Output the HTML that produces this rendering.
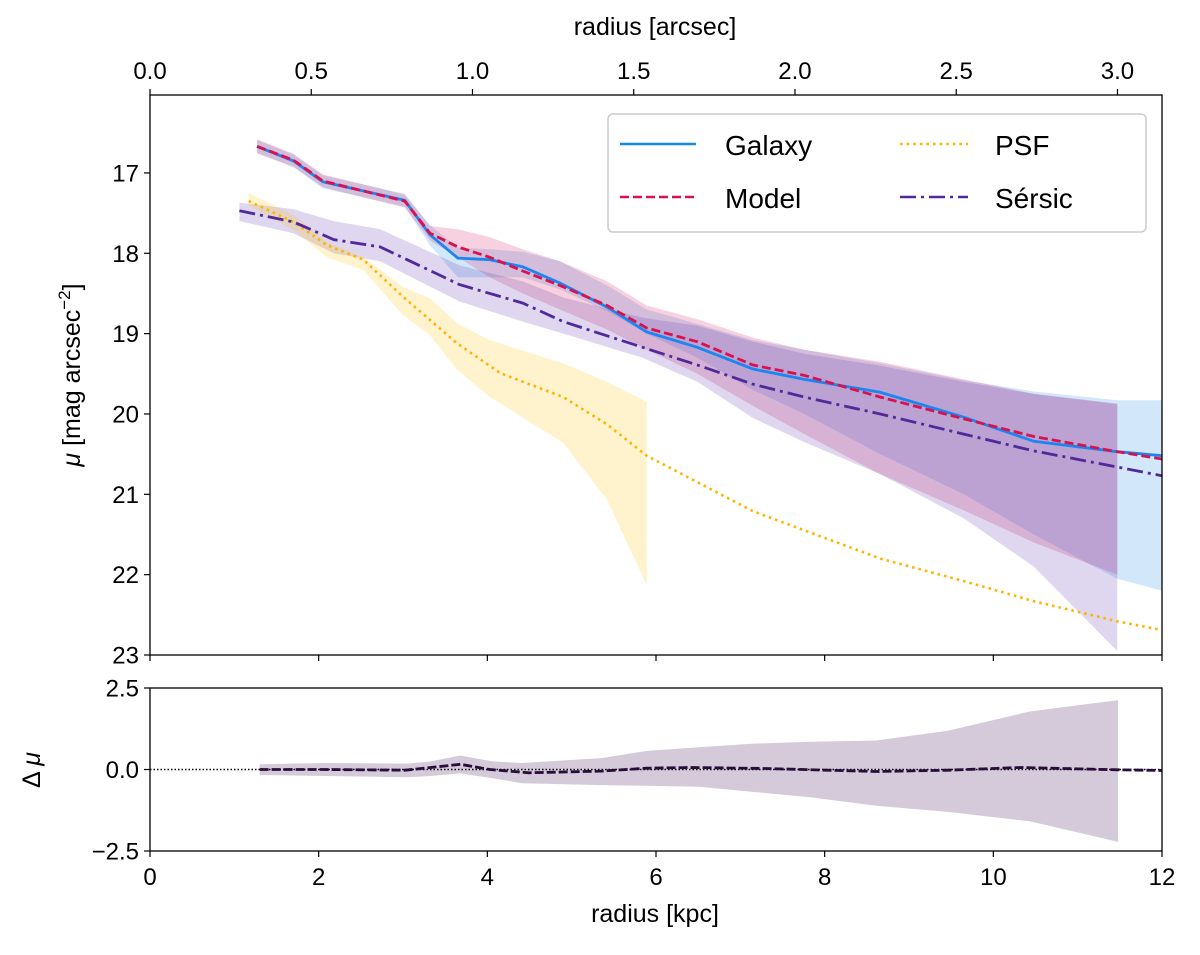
<!DOCTYPE html>
<html><head><meta charset="utf-8">
<style>
html,body{margin:0;padding:0;background:#fff;}
svg{display:block;font-family:"Liberation Sans","DejaVu Sans",sans-serif;}
</style></head>
<body>
<svg id="fig" width="1200" height="955" viewBox="0 0 1200 955" xmlns="http://www.w3.org/2000/svg">
<defs>
<clipPath id="clipMain"><rect x="150" y="95" width="1012" height="560"/></clipPath>
<clipPath id="clipRes"><rect x="150" y="688" width="1012" height="163"/></clipPath>
</defs>
<g id="mainBands" clip-path="url(#clipMain)"></g>
<g id="mainLines" clip-path="url(#clipMain)"></g>
<g id="resG" clip-path="url(#clipRes)"></g>
<g id="axesG"></g>
<g id="legendG">
  <rect x="608" y="114" width="538" height="118" rx="5" fill="#fff" fill-opacity="0.85" stroke="#cccccc" stroke-width="1.5"/>
  <line x1="620" y1="144" x2="696" y2="144" stroke="#1a86f0" stroke-width="2.6"/>
  <text x="725" y="155" font-size="28">Galaxy</text>
  <line x1="620" y1="197" x2="696" y2="197" stroke="#d8114f" stroke-width="2.6" stroke-dasharray="9,4"/>
  <text x="725" y="208" font-size="28">Model</text>
  <line x1="900" y1="144" x2="968" y2="144" stroke="#ffb400" stroke-width="2.6" stroke-dasharray="2.6,4"/>
  <text x="995" y="155" font-size="28">PSF</text>
  <line x1="900" y1="197" x2="968" y2="197" stroke="#512a9a" stroke-width="2.6" stroke-dasharray="16,5,3,5"/>
  <text x="995" y="208" font-size="28">Sérsic</text>
</g>
<text x="655" y="35" font-size="25" text-anchor="middle">radius [arcsec]</text>
<text x="655" y="922" font-size="25" text-anchor="middle">radius [kpc]</text>
<text transform="translate(80,375) rotate(-90)" font-size="25" text-anchor="middle"><tspan font-style="italic">μ</tspan> [mag arcsec<tspan dy="-10" font-size="17">−2</tspan><tspan dy="10">]</tspan></text>
<text transform="translate(40,770) rotate(-90)" font-size="25" text-anchor="middle">Δ <tspan font-style="italic">μ</tspan></text>
</svg>
<script>
// ---- data ----
const R = [1.27,1.70,2.05,3.02,3.32,3.65,4.03,4.42,4.86,5.42,5.89,6.49,7.15,7.76,8.66,9.65,10.48,11.47,12.0];
const galaxy = [16.67,16.85,17.11,17.34,17.77,18.06,18.08,18.17,18.37,18.67,18.98,19.17,19.44,19.57,19.73,20.04,20.34,20.47,20.52];
const galaxyUp = [16.59,16.77,17.03,17.26,17.65,17.93,17.95,17.98,18.10,18.40,18.70,18.88,19.08,19.20,19.37,19.58,19.72,19.83,19.83];
const galaxyLo = [16.75,16.93,17.19,17.42,17.90,18.30,18.30,18.30,18.45,18.72,19.00,19.30,19.70,20.00,20.50,21.00,21.50,22.05,22.20];
const model = [16.67,16.84,17.10,17.35,17.75,17.92,18.05,18.22,18.40,18.65,18.93,19.10,19.39,19.52,19.79,20.06,20.28,20.47,20.56];
const RModelBand = [1.27,1.70,2.05,3.02,3.32,3.65,4.03,4.42,4.86,5.42,5.89,6.49,7.15,7.76,8.66,9.65,10.48,11.47];
const modelUp = [16.58,16.76,17.02,17.27,17.66,17.70,17.80,17.95,18.10,18.35,18.65,18.82,19.05,19.20,19.35,19.57,19.75,19.87];
const modelLo = [16.76,16.92,17.18,17.43,17.84,18.05,18.30,18.50,18.70,18.95,19.20,19.50,19.90,20.25,20.75,21.20,21.60,22.00];
const RSersic = [1.06,1.70,2.18,2.73,3.67,4.42,4.90,5.84,6.49,7.15,7.76,8.66,9.65,10.48,11.47,12.0];
const sersic = [17.47,17.61,17.83,17.92,18.39,18.62,18.85,19.17,19.39,19.63,19.79,20.00,20.25,20.46,20.66,20.77];
const RSersicBand = [1.06,1.70,2.18,2.73,3.67,4.42,4.90,5.84,6.49,7.15,7.76,8.66,9.65,10.48,11.47];
const sersicUp = [17.37,17.45,17.60,17.70,18.15,18.35,18.55,18.80,18.90,19.10,19.25,19.40,19.60,19.75,19.88];
const sersicLo = [17.60,17.75,18.00,18.10,18.60,18.85,19.00,19.30,19.60,20.05,20.35,20.75,21.30,21.90,22.95];
const RPsf = [1.17,1.70,2.10,2.53,3.00,3.64,4.15,4.90,5.42,5.89,7.15,8.66,9.65,10.48,11.47,12.0];
const psf = [17.35,17.61,17.90,18.08,18.54,19.12,19.49,19.79,20.13,20.52,21.21,21.80,22.08,22.33,22.58,22.69];
const RPsfBand = [1.17,1.70,2.10,2.53,3.00,3.32,3.64,4.03,4.90,5.42,5.89];
const psfUp = [17.25,17.52,17.86,18.05,18.42,18.56,18.87,19.08,19.37,19.60,19.85];
const psfLo = [17.40,17.71,18.05,18.21,18.77,19.02,19.45,19.79,20.36,21.07,22.13];
const RRes = [1.30,2.05,3.03,3.68,4.03,4.49,5.35,5.89,6.44,7.29,8.61,9.46,10.32,11.48,12.0];
const residual = [0.0,0.0,-0.02,0.16,0.0,-0.10,-0.05,0.04,0.06,0.03,-0.06,-0.02,0.06,-0.01,-0.03];
const RResBand = [1.30,2.08,3.05,3.33,3.68,4.06,4.41,5.35,5.89,6.51,7.13,7.83,8.61,9.46,10.43,11.48];
const resUp = [0.16,0.20,0.18,0.25,0.43,0.25,0.20,0.35,0.57,0.68,0.79,0.85,0.89,1.19,1.78,2.13];
const resLo = [-0.17,-0.20,-0.24,-0.20,-0.12,-0.27,-0.42,-0.48,-0.50,-0.53,-0.68,-0.85,-1.11,-1.30,-1.59,-2.22];
const xTicks = [0,2,4,6,8,10,12];
const arcTicks = [0.0,0.5,1.0,1.5,2.0,2.5,3.0];
const yTicks = [17,18,19,20,21,22,23];
const resTicks = [2.5,0.0,-2.5];
const resTickLabels = ["2.5","0.0","\u22122.5"];
const kpcPerArcsec = 3.824;

// ---- scales ----
const L=150, Rt=1162, T=95, B=655, RT=688, RB=851;
const xS = v => L + (v-0)/(12-0)*(Rt-L);
const yS = v => T + (v-16.03)/(23-16.03)*(B-T);
const ryS = v => RT + (2.5-v)/5*(RB-RT);
const NS="http://www.w3.org/2000/svg";
function mk(tag, attrs, parent){const e=document.createElementNS(NS,tag);for(const k in attrs)e.setAttribute(k,attrs[k]);parent.appendChild(e);return e;}
function linePath(xs,ys,ysc){return xs.map((x,i)=>(i?'L':'M')+xS(x).toFixed(1)+','+ysc(ys[i]).toFixed(1)).join('');}
function bandPath(xs,up,lo,ysc){let d=xs.map((x,i)=>(i?'L':'M')+xS(x).toFixed(1)+','+ysc(up[i]).toFixed(1)).join('');for(let i=xs.length-1;i>=0;i--)d+='L'+xS(xs[i]).toFixed(1)+','+ysc(lo[i]).toFixed(1);return d+'Z';}

const bands=document.getElementById('mainBands');
let e;
e=mk('path',{d:bandPath(R,galaxyUp,galaxyLo,yS),fill:'#1E88E5','fill-opacity':0.2},bands);


e=mk('path',{d:bandPath(RModelBand,modelUp,modelLo,yS),fill:'#D81B60','fill-opacity':0.2},bands);


e=mk('path',{d:bandPath(RSersicBand,sersicUp,sersicLo,yS),fill:'#5E35B1','fill-opacity':0.2},bands);


e=mk('path',{d:bandPath(RPsfBand,psfUp,psfLo,yS),fill:'#FFC107','fill-opacity':0.2},bands);



const lines=document.getElementById('mainLines');
e=mk('path',{d:linePath(RPsf,psf,yS),fill:'none',stroke:'#ffb400','stroke-width':2.6,'stroke-dasharray':'2.6,4'},lines);


e=mk('path',{d:linePath(RSersic,sersic,yS),fill:'none',stroke:'#512a9a','stroke-width':2.8,'stroke-dasharray':'16,5,3,5'},lines);


e=mk('path',{d:linePath(R,galaxy,yS),fill:'none',stroke:'#1a86f0','stroke-width':2.8},lines);


e=mk('path',{d:linePath(R,model,yS),fill:'none',stroke:'#d8114f','stroke-width':2.8,'stroke-dasharray':'9,4'},lines);



const res=document.getElementById('resG');
e=mk('path',{d:bandPath(RResBand,resUp,resLo,ryS),fill:'#7b5a8c','fill-opacity':0.32},res);


e=mk('line',{x1:L,x2:Rt,y1:ryS(0),y2:ryS(0),stroke:'#000','stroke-width':1.5,'stroke-dasharray':'1.5,2'},res);


e=mk('path',{d:linePath(RRes,residual,ryS),fill:'none',stroke:'#2a0c3a','stroke-width':2.8,'stroke-dasharray':'9,3'},res);



// ---- axes ----
const ax=document.getElementById('axesG');
e=mk('rect',{x:L,y:T,width:Rt-L,height:B-T,fill:'none',stroke:'#000','stroke-width':1.3},ax);


e=mk('rect',{x:L,y:RT,width:Rt-L,height:RB-RT,fill:'none',stroke:'#000','stroke-width':1.3},ax);


xTicks.forEach(v=>{
  const x=xS(v);
  mk('line',{x1:x,x2:x,y1:B,y2:B+6,stroke:'#000','stroke-width':1.2},ax);
  mk('line',{x1:x,x2:x,y1:RB,y2:RB+6,stroke:'#000','stroke-width':1.2},ax);
  const t=mk('text',{x:x,y:RB+34,'font-size':24,'text-anchor':'middle'},ax);
  t.textContent=String(v);
  
  
});
arcTicks.forEach(v=>{
  const x=xS(v*kpcPerArcsec);
  mk('line',{x1:x,x2:x,y1:T,y2:T-6,stroke:'#000','stroke-width':1.2},ax);
  const t=mk('text',{x:x,y:T-16,'font-size':24,'text-anchor':'middle'},ax);
  t.textContent=v.toFixed(1);
  
  
});
yTicks.forEach(v=>{
  const y=yS(v);
  mk('line',{x1:L,x2:L-6,y1:y,y2:y,stroke:'#000','stroke-width':1.2},ax);
  const t=mk('text',{x:L-11,y:y+8.5,'font-size':24,'text-anchor':'end'},ax);
  t.textContent=String(v);
  
  
});
resTicks.forEach((v,i)=>{
  const y=ryS(v);
  mk('line',{x1:L,x2:L-6,y1:y,y2:y,stroke:'#000','stroke-width':1.2},ax);
  const t=mk('text',{x:L-11,y:y+8.5,'font-size':24,'text-anchor':'end'},ax);
  t.textContent=resTickLabels[i];
  
  
});
</script>
</body></html>
